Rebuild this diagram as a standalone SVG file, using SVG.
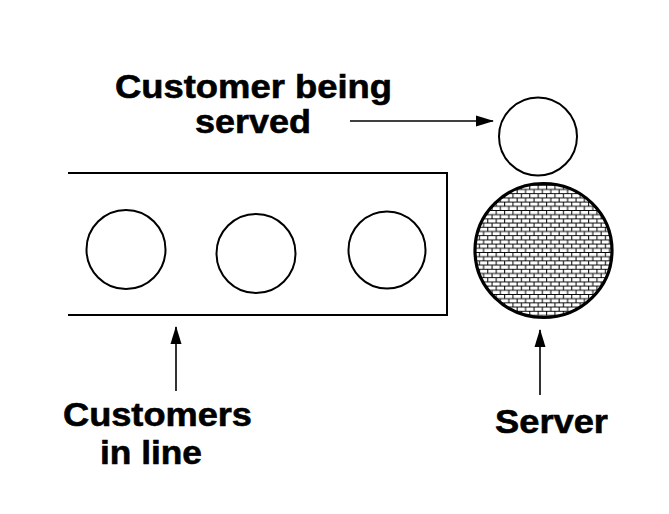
<svg xmlns="http://www.w3.org/2000/svg" width="669" height="514" viewBox="0 0 669 514">
  <style>
    .lbl { font-family: "Liberation Sans", Arial, sans-serif; font-weight: bold; font-size: 34px; fill: #000; stroke: #000; stroke-width: 0.6; }
    .cust { fill: #fff; stroke: #000; stroke-width: 2; }
    .wall { fill: none; stroke: #000; stroke-width: 2; }
    .conn { stroke: #000; stroke-width: 1.6; fill: none; marker-end: url(#arrow); }
  </style>
  <defs>
    <marker id="arrow" viewBox="0 0 18 12" refX="17" refY="6" markerWidth="18" markerHeight="12" markerUnits="userSpaceOnUse" orient="auto">
      <path d="M0,0.5 L18,6 L0,11.5 Z" fill="#000"/>
    </marker>
    <pattern id="brick" width="8.4" height="8.4" patternUnits="userSpaceOnUse">
      <rect width="8.4" height="8.4" fill="#fff"/>
      <path d="M0,0.5 H8.4 M0,4.7 H8.4 M0.6,0 V4.2 M4.8,4.2 V8.4" stroke="#000" stroke-width="1"/>
    </pattern>
  </defs>
  <rect width="669" height="514" fill="#fff"/>

  <g id="queue">
    <path class="wall" d="M68,173 H447 V315 H68"/>
  </g>
  <g id="customer1"><circle class="cust" cx="126" cy="249.5" r="39.5"/></g>
  <g id="customer2"><circle class="cust" cx="256" cy="253.5" r="39.5"/></g>
  <g id="customer3"><circle class="cust" cx="387" cy="250" r="38.5"/></g>
  <g id="customer-served"><circle class="cust" cx="538" cy="136.5" r="39"/></g>
  <g id="server"><ellipse cx="543.5" cy="250.5" rx="68.5" ry="67" fill="url(#brick)" stroke="#000" stroke-width="3.2"/></g>

  <g id="label-served">
    <text class="lbl" x="115" y="98" textLength="277" lengthAdjust="spacingAndGlyphs">Customer being</text>
    <text class="lbl" x="195" y="133" textLength="116" lengthAdjust="spacingAndGlyphs">served</text>
  </g>
  <g id="label-line">
    <text class="lbl" x="63" y="426" textLength="189" lengthAdjust="spacingAndGlyphs">Customers</text>
    <text class="lbl" x="100" y="464" textLength="102" lengthAdjust="spacingAndGlyphs">in line</text>
  </g>
  <g id="label-server">
    <text class="lbl" x="495" y="433" textLength="113" lengthAdjust="spacingAndGlyphs">Server</text>
  </g>

  <g id="connectors">
    <line class="conn" x1="350" y1="121" x2="493" y2="121"/>
    <line class="conn" x1="176" y1="391" x2="176" y2="327"/>
    <line class="conn" x1="540" y1="395" x2="540" y2="330"/>
  </g>
</svg>
